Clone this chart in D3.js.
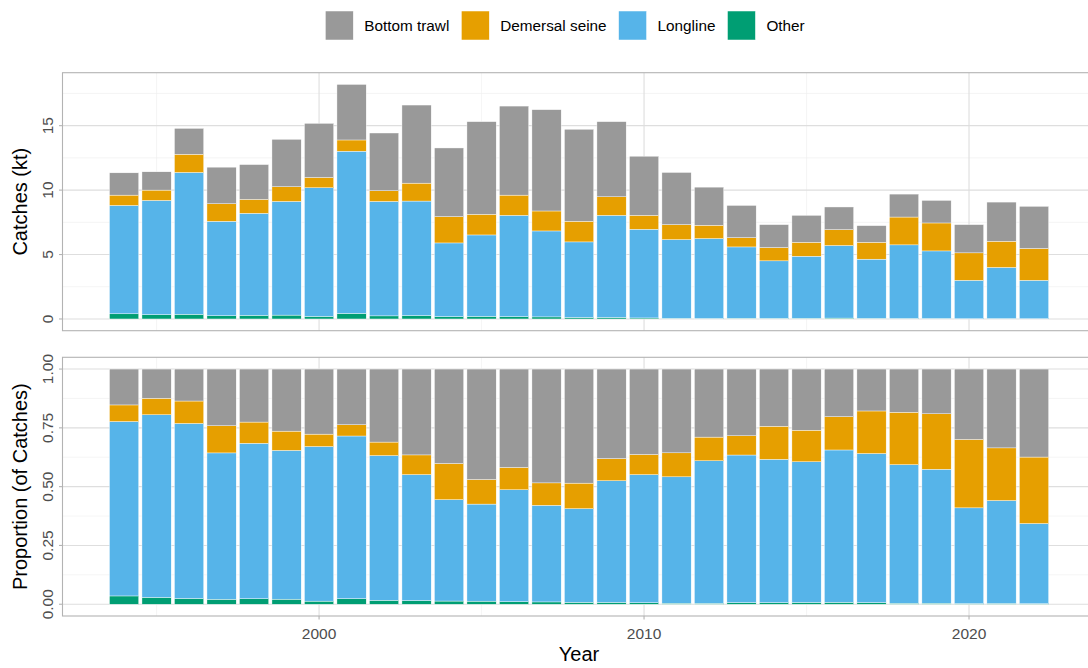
<!DOCTYPE html>
<html>
<head>
<meta charset="utf-8">
<script src="https://cdn.jsdelivr.net/npm/d3@7"></script>
<style>
  body { margin: 0; background: #fff; }
  text { font-family: "Liberation Sans", Arial, Helvetica, sans-serif; }
  .tick-label { fill: #4d4d4d; font-size: 15.5px; }
  .axis-title { fill: #000; font-size: 20px; }
  .legend-label { fill: #000; font-size: 15.3px; }
</style>
</head>
<body>
<script>
// catches by gear type (kt)
var years = [1994, 1995, 1996, 1997, 1998, 1999, 2000, 2001, 2002, 2003,
             2004, 2005, 2006, 2007, 2008, 2009, 2010, 2011, 2012, 2013,
             2014, 2015, 2016, 2017, 2018, 2019, 2020, 2021, 2022];
var other    = [0.40, 0.33, 0.36, 0.25, 0.28, 0.30, 0.20, 0.43, 0.24, 0.26,
                0.18, 0.20, 0.18, 0.16, 0.12, 0.12, 0.08, 0.05, 0.04, 0.06,
                0.05, 0.06, 0.07, 0.05, 0.04, 0.04, 0.02, 0.03, 0.02];
var longline = [8.41, 8.87, 11.01, 7.33, 7.92, 8.82, 9.98, 12.59, 8.88, 8.89,
                5.72, 6.32, 7.86, 6.67, 5.86, 7.92, 6.88, 6.11, 6.20, 5.53,
                4.46, 4.81, 5.63, 4.59, 5.71, 5.24, 2.98, 3.97, 2.98];
var seine    = [0.80, 0.80, 1.41, 1.36, 1.08, 1.14, 0.80, 0.87, 0.83, 1.39,
                2.04, 1.60, 1.57, 1.55, 1.60, 1.44, 1.08, 1.16, 1.03, 0.72,
                1.03, 1.08, 1.23, 1.31, 2.16, 2.17, 2.13, 2.03, 2.47];
var trawl    = [1.73, 1.42, 2.01, 2.84, 2.70, 3.68, 4.20, 4.31, 4.48, 6.06,
                5.33, 7.19, 6.91, 7.86, 7.14, 5.83, 4.59, 4.05, 2.96, 2.50,
                1.78, 2.09, 1.76, 1.29, 1.78, 1.75, 2.19, 3.04, 3.27];

var gearNames  = ["Bottom trawl", "Demersal seine", "Longline", "Other"];
var gearKeys   = ["trawl", "seine", "longline", "other"];
var gearColors = ["#999999", "#E69F00", "#56B4E9", "#009E73"];

var topTicks = [0, 5, 10, 15];
var botTicks = [0, 0.25, 0.5, 0.75, 1];
var xTicks = [2000, 2010, 2020];

window.onload = function(){
    var w = 1088, h = 668;
    var svg = d3.select("body").append("svg")
        .attr("width", w)
        .attr("height", h);

    // build rows for the stack
    var rows = years.map(function(y, i){
        return {year: y, other: other[i], longline: longline[i], seine: seine[i], trawl: trawl[i]};
    });
    var stackOrder = ["other", "longline", "seine", "trawl"]; // bottom to top
    var color = d3.scaleOrdinal().domain(gearKeys).range(gearColors);

    var barW = 0.9;
    // x scale like ggplot: bar extents + 5% expansion
    var xMin = d3.min(years) - barW / 2, xMax = d3.max(years) + barW / 2;
    var xPad = (xMax - xMin) * 0.05;
    var x = d3.scaleLinear()
        .domain([xMin - xPad, xMax + xPad])
        .range([62.5, 1095.6]);

    var panels = [
        {top: 72.7, bottom: 330.7, stack: d3.stack().keys(stackOrder)(rows),
         ticks: topTicks, fmt: d3.format("d"), title: "Catches (kt)", showX: false},
        {top: 357.3, bottom: 616, stack: d3.stack().keys(stackOrder).offset(d3.stackOffsetExpand)(rows),
         ticks: botTicks, fmt: d3.format(".2f"), title: "Proportion (of Catches)", showX: true}
    ];

    panels.forEach(function(p){
        var maxV = d3.max(p.stack[p.stack.length - 1], function(d){ return d[1]; });
        var yPad = maxV * 0.05;
        var y = d3.scaleLinear()
            .domain([-yPad, maxV + yPad])
            .range([p.bottom, p.top]);

        var g = svg.append("g");
        var left = x.range()[0], right = x.range()[1];

        // minor grid
        var step = p.ticks[1] - p.ticks[0];
        var yMinor = d3.range(p.ticks[0] - step / 2, maxV + yPad, step)
            .filter(function(v){ return y(v) <= p.bottom && y(v) >= p.top; });
        g.selectAll(".ymin").data(yMinor).enter().append("line")
            .attr("x1", left).attr("x2", right)
            .attr("y1", function(d){ return y(d); }).attr("y2", function(d){ return y(d); })
            .attr("stroke", "#efefef").attr("stroke-width", 0.6);
        var xMinor = [1995, 2005, 2015];
        g.selectAll(".xmin").data(xMinor).enter().append("line")
            .attr("x1", function(d){ return x(d); }).attr("x2", function(d){ return x(d); })
            .attr("y1", p.top).attr("y2", p.bottom)
            .attr("stroke", "#efefef").attr("stroke-width", 0.6);

        // major grid
        g.selectAll(".ymaj").data(p.ticks).enter().append("line")
            .attr("x1", left).attr("x2", right)
            .attr("y1", function(d){ return y(d); }).attr("y2", function(d){ return y(d); })
            .attr("stroke", "#dedede").attr("stroke-width", 1.1);
        g.selectAll(".xmaj").data(xTicks).enter().append("line")
            .attr("x1", function(d){ return x(d); }).attr("x2", function(d){ return x(d); })
            .attr("y1", p.top).attr("y2", p.bottom)
            .attr("stroke", "#dedede").attr("stroke-width", 1.1);

        // stacked bars
        var bw = x(barW) - x(0);
        g.selectAll(".layer").data(p.stack).enter().append("g")
            .attr("fill", function(d){ return color(d.key); })
            .selectAll("rect").data(function(d){ return d; }).enter().append("rect")
              .attr("x", function(d){ return x(d.data.year) - bw / 2; })
              .attr("width", bw)
              .attr("y", function(d){ return y(d[1]); })
              .attr("height", function(d){ return Math.max(0, y(d[0]) - y(d[1])); })
              .attr("stroke", "#fff")
              .attr("stroke-width", 0.4);

        // panel border
        g.append("rect")
            .attr("x", left).attr("y", p.top)
            .attr("width", right - left).attr("height", p.bottom - p.top)
            .attr("fill", "none").attr("stroke", "#b3b3b3").attr("stroke-width", 1.1);

        // y ticks and rotated labels
        g.selectAll(".ytick").data(p.ticks).enter().append("line")
            .attr("x1", left - 3.5).attr("x2", left)
            .attr("y1", function(d){ return y(d); }).attr("y2", function(d){ return y(d); })
            .attr("stroke", "#b3b3b3").attr("stroke-width", 1.1);
        g.selectAll(".ylab").data(p.ticks).enter().append("text")
            .attr("class", "tick-label")
            .attr("text-anchor", "middle")
            .attr("transform", function(d){ return "translate(53," + y(d) + ") rotate(-90)"; })
            .text(function(d){ return p.fmt(d); });

        // y title
        g.append("text")
            .attr("class", "axis-title")
            .attr("text-anchor", "middle")
            .attr("transform", "translate(27," + ((p.top + p.bottom) / 2) + ") rotate(-90)")
            .text(p.title);

        if (p.showX) {
            g.selectAll(".xtick").data(xTicks).enter().append("line")
                .attr("x1", function(d){ return x(d); }).attr("x2", function(d){ return x(d); })
                .attr("y1", p.bottom).attr("y2", p.bottom + 3.5)
                .attr("stroke", "#b3b3b3").attr("stroke-width", 1.1);
            g.selectAll(".xlab").data(xTicks).enter().append("text")
                .attr("class", "tick-label")
                .attr("text-anchor", "middle")
                .attr("x", function(d){ return x(d); })
                .attr("y", 639)
                .text(function(d){ return d; });
        }
    });

    // x title
    svg.append("text")
        .attr("class", "axis-title")
        .attr("text-anchor", "middle")
        .attr("x", 579)
        .attr("y", 661)
        .text("Year");

    // legend across the top
    var legend = svg.append("g");
    var cx = 0;
    gearNames.forEach(function(name, i){
        var item = legend.append("g").attr("transform", "translate(" + cx + ",0)");
        item.append("rect")
            .attr("x", 0).attr("y", 11)
            .attr("width", 28).attr("height", 29)
            .attr("fill", gearColors[i])
            .attr("stroke", "#fff").attr("stroke-width", 0.5);
        var t = item.append("text")
            .attr("class", "legend-label")
            .attr("x", 39).attr("y", 30.5)
            .text(name);
        cx += 39 + t.node().getComputedTextLength() + 12;
    });
    var legW = cx - 12;
    legend.attr("transform", "translate(" + (565 - legW / 2) + ",0)");
};
</script>
</body>
</html>
